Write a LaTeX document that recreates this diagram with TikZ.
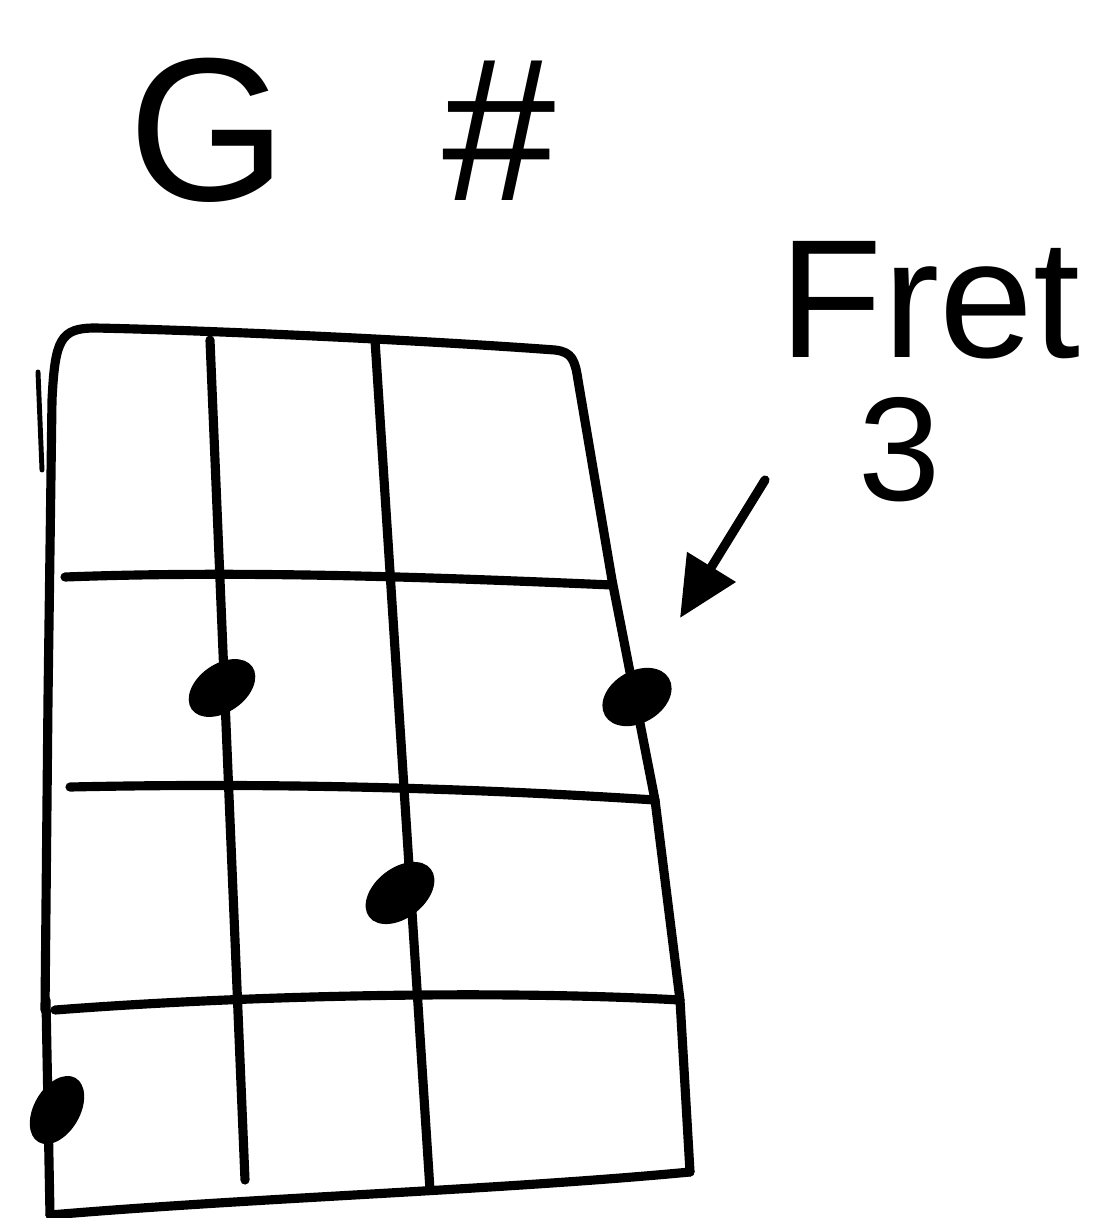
\documentclass[tikz,border=0pt]{standalone}
\usepackage{fontspec}
\setmainfont{Liberation Sans}
\usetikzlibrary{arrows.meta}
\begin{document}
\begin{tikzpicture}[x=0.01cm,y=-0.01cm,
  ink/.style={line width=2.6pt,line cap=round,line join=round,black},
  fingerdot/.style={fill=black},
  lbl/.style={inner sep=0pt,black}]
\useasboundingbox (0,0) rectangle (1103,1218);
% title
\node[lbl,font=\fontsize{58}{60}\selectfont] (title) at (342,130) {G\hspace{1.55cm}\#};
% fretboard outline
\draw[ink] (45,1010) -- (48,700) -- (52,400) .. controls (55,340) and (60,328) .. (95,328)
  .. controls (200,330) and (420,340) .. (555,350) .. controls (572,352) and (575,360) .. (578,380)
  -- (612,580) -- (655,800) -- (680,1000) -- (690,1172);
\draw[ink] (46,1000) -- (50,1215);
\draw[ink,line width=1.4pt] (38,372) -- (42,470);
\draw[ink] (50,1215) .. controls (250,1198) and (500,1190) .. (690,1172);
% strings
\draw[ink] (210,340) -- (245,1180);
\draw[ink] (375,340) -- (430,1190);
% frets
\draw[ink] (65,577) .. controls (250,570) and (450,578) .. (612,585);
\draw[ink] (70,787) .. controls (300,782) and (500,790) .. (655,800);
\draw[ink] (55,1010) .. controls (250,995) and (500,990) .. (680,1000);
% finger dots
\fill[fingerdot,rotate around={35:(222,688)}] (222,688) ellipse (37 and 24);
\fill[fingerdot,rotate around={30:(637,697)}] (637,697) ellipse (37 and 26);
\fill[fingerdot,rotate around={38:(400,893)}] (400,893) ellipse (39 and 25);
\fill[fingerdot,rotate around={60:(57,1110)}] (57,1110) ellipse (37 and 23);
% label
\node[lbl,font=\fontsize{48}{50}\selectfont] (fret) at (930,300) {Fret};
\node[lbl,font=\fontsize{42}{44}\selectfont] (num) at (900,450) {3};
\coordinate (atail) at (765,480);
\coordinate (ahead) at (680,618);
\draw[ink,-{Triangle[length=0.6cm,width=0.55cm]}] (atail) -- (ahead);
\end{tikzpicture}
\end{document}
